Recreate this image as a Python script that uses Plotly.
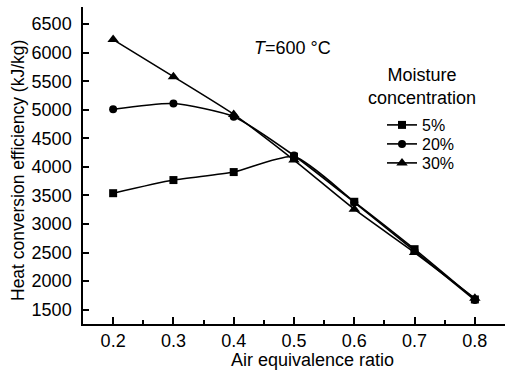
import plotly.graph_objects as go

x_ratio = [0.2, 0.3, 0.4, 0.5, 0.6, 0.7, 0.8]
eff_5 = [3540, 3770, 3910, 4180, 3390, 2560, 1680]
eff_20 = [5010, 5110, 4880, 4200, 3380, 2530, 1670]
eff_30 = [6230, 5580, 4920, 4120, 3260, 2500, 1700]
series_names = ["5%", "20%", "30%"]
symbols = ["square", "circle", "triangle-up"]
marker_sizes = [8, 8, 10]

FONT = "Liberation Sans, Arial, sans-serif"
W, H = 505, 371
ML, MR, MT, MB = 83, 0, 7, 47
PW, PH = W - ML - MR, H - MT - MB


def px_x(pix):
    return (pix - ML) / PW


def px_y(pix):
    return 1 - (pix - MT) / PH


fig = go.Figure()
legend_ids = ["legend", "legend2", "legend3"]
for name, ys, sym, ms, lg in zip(series_names, [eff_5, eff_20, eff_30], symbols, marker_sizes, legend_ids):
    fig.add_trace(go.Scatter(
        x=x_ratio, y=ys, name=name, mode="lines+markers", legend=lg,
        line=dict(color="black", width=1.6, shape="spline", smoothing=0.6),
        marker=dict(symbol=sym, size=ms, color="black"),
    ))

leg_common = dict(xanchor="left", yanchor="middle", bgcolor="rgba(0,0,0,0)",
                  font=dict(size=16), itemwidth=30, borderwidth=0)

fig.update_layout(
    width=W, height=H,
    margin=dict(l=ML, r=MR, t=MT, b=MB),
    paper_bgcolor="white", plot_bgcolor="white",
    font=dict(family=FONT, size=18, color="black"),
    showlegend=True,
    legend=dict(x=px_x(382), y=px_y(125), **leg_common),
    legend2=dict(x=px_x(382), y=px_y(144), **leg_common),
    legend3=dict(x=px_x(382), y=px_y(163), **leg_common),
    xaxis=dict(range=[0.15, 0.85], tick0=0.2, dtick=0.1, tickformat=".1f",
               showgrid=False, zeroline=False,
               showline=True, linecolor="black", linewidth=1.5,
               ticks="inside", ticklen=7, tickwidth=1.5, tickcolor="black",
               minor=dict(ticks="inside", ticklen=4, dtick=0.05, tickwidth=1.5, tickcolor="black"),
               ticklabelstandoff=0),
    yaxis=dict(range=[1250, 6800], tick0=1500, dtick=500,
               showgrid=False, zeroline=False,
               showline=True, linecolor="black", linewidth=1.5,
               ticks="inside", ticklen=6, tickwidth=1.5, tickcolor="black",
               ticklabelstandoff=6),
)

# axis titles
fig.add_annotation(x=px_x(312), y=px_y(360), xref="paper", yref="paper",
                   xanchor="center", yanchor="middle", text="Air equivalence ratio",
                   showarrow=False, font=dict(size=18), borderpad=0)
fig.add_annotation(x=px_x(18), y=px_y(171), xref="paper", yref="paper",
                   xanchor="center", yanchor="middle", textangle=-90,
                   text="Heat conversion efficiency (kJ/kg)",
                   showarrow=False, font=dict(size=17.5))

fig.add_annotation(x=0.43, y=6082, xref="x", yref="y", xanchor="left", yanchor="middle",
                   text="<i>T</i>=600 °C", showarrow=False, font=dict(size=18))
fig.add_annotation(x=px_x(422), y=px_y(86), xref="paper", yref="paper",
                   xanchor="center", yanchor="middle",
                   text="Moisture<br>concentration", showarrow=False, font=dict(size=18))

fig.write_html("out.html")
